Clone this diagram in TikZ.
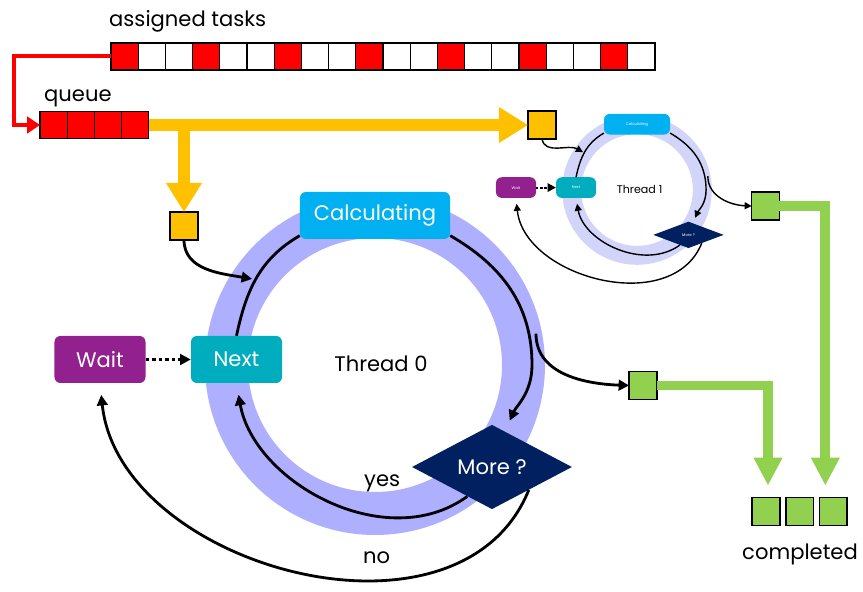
\documentclass[tikz,border=0pt]{standalone}
\usepackage{fontspec}
\setmainfont{Poppins}
\usetikzlibrary{shapes.geometric, arrows.meta, positioning, calc}

\definecolor{taskred}{RGB}{255,0,0}
\definecolor{queueyellow}{RGB}{255,192,0}
\definecolor{donegreen}{RGB}{146,208,80}
\definecolor{ringblue}{RGB}{174,176,255}
\definecolor{ringpale}{RGB}{210,212,250}
\definecolor{calcblue}{RGB}{0,176,240}
\definecolor{nextteal}{RGB}{0,173,190}
\definecolor{waitpurple}{RGB}{146,32,142}
\definecolor{morenavy}{RGB}{0,32,96}

\tikzset{
  lbl/.style={font=\fontsize{18}{20}\selectfont, inner sep=0pt},
  cell/.style={draw, line width=1pt, minimum width=0.816cm, minimum height=0.81cm, inner sep=0pt, outer sep=0pt},
  token/.style={draw, line width=1.2pt, minimum size=0.83cm, inner sep=0pt, outer sep=0pt},
  ring/.style={fill=ringblue},
  boxtext/.style={font=\fontsize{18}{20}\selectfont},
  nametext/.style={font=\fontsize{18}{20}\selectfont},
  stepbox/.style={rounded corners=5pt, minimum width=2.73cm, minimum height=1.41cm, text=white, inner sep=0pt, boxtext},
  decision/.style={diamond, fill=morenavy, minimum width=4.8cm, minimum height=1.8cm, inner sep=0pt, text=white, boxtext},
  loopline/.style={line width=2.4pt},
  flow/.style={loopline, -{Triangle[length=9pt,width=9pt]}},
  thinflow/.style={line width=1.2pt, -{Triangle[length=6pt,width=6pt]}},
  gap/.style={shorten >=10pt},
  waitflow/.style={flow, dash pattern=on 3pt off 2.5pt},
  feed/.style={draw=taskred, line width=3.4pt, -{Triangle[length=11pt,width=14pt]}},
  pipe/.style={draw=queueyellow, line width=10.2pt, -{Triangle[length=25pt,width=29pt]}},
  donepipe/.style={draw=donegreen, line width=8.5pt, -{Triangle[length=24pt,width=23pt]}},
  % one worker thread: ring, its three steps and the decision
  threadloop/.pic={
    \fill[ring, even odd rule] (0,0) circle (170) (0,0) circle (127);
    \node[stepbox, fill=calcblue, minimum width=4.5cm] (-calc) at (0,149.5) {Calculating};
    \node[stepbox, fill=nextteal] (-next) at (-138.5,5.5) {Next};
    \node[stepbox, fill=waitpurple] (-wait) at (-275,5.5) {Wait};
    \node[decision] (-more) at (117,-102) {More ?};
    \node[nametext] (-name) at (6,1) {#1};
    \coordinate (-in) at (145:150);
    \coordinate (-right) at (0:157);
    \coordinate (-out) at (11:164);
    \draw[loopline] (-next.north) to[out=78,in=210] (-calc.195);
    \draw[flow, gap] (-calc.-15) to[out=-30,in=90] (-right) to[out=-90,in=66] (-more.70);
    \draw[flow, gap] (-more.-130) to[out=-144,in=-80] (-next.south);
    \draw[flow, gap] (-more.-32) to[out=-112,in=-84,looseness=1.07] (-wait.south);
    \draw[waitflow] (-wait) -- (-next);
  }
}

\begin{document}
\begin{tikzpicture}[x=0.03cm, y=0.03cm]
\useasboundingbox (0,0) rectangle (863,592);

% the two threads
\pic (t0) at (375,227) {threadloop=Thread 0};
\pic[scale=.44, transform shape,
  ring/.style={fill=ringpale},
  boxtext/.style={font=\fontsize{7.4}{8}\selectfont},
  nametext/.style={font=\fontsize{21.5}{24}\selectfont},
  loopline/.style={line width=1.2pt},
  flow/.style={loopline, -{Triangle[length=6pt,width=6pt]}},
  gap/.style={shorten >=5pt},
  waitflow/.style={loopline, -{Triangle[length=7pt,width=7pt]}, line width=1.8pt, dash pattern=on 2pt off 1.5pt}] (t1) at (637,402) {threadloop=Thread 1};

% assigned tasks, every third one goes to the queue
\node[cell, fill=taskred] (task1) at (124.6,535.5) {};
\foreach \i in {2,...,20}{
  \pgfmathtruncatemacro\prev{\i-1}
  \pgfmathtruncatemacro\rest{mod(\i-1,3)}
  \ifnum\rest=0 \def\cellfill{taskred}\else\def\cellfill{white}\fi
  \node[cell, fill=\cellfill, right=0pt of task\prev] (task\i) {};
}
\node[lbl, anchor=base west] (assigned) at (109,565) {assigned tasks};

% queue
\node[cell, fill=taskred] (q1) at (53.6,467) {};
\foreach \i in {2,3,4}{
  \pgfmathtruncatemacro\prev{\i-1}
  \node[cell, fill=taskred, right=0pt of q\prev] (q\i) {};
}
\node[lbl, anchor=base west] (queue) at (44,490) {queue};

% tasks handed out and finished
\node[token, fill=queueyellow] (y0) at (184,366) {};
\node[token, fill=queueyellow] (y1) at (542,467) {};
\node[token, fill=donegreen] (g0) at (643,206.5) {};
\node[token, fill=donegreen] (g1) at (765.5,386) {};
\node[token, fill=donegreen] (c1) at (766,80.5) {};
\node[token, fill=donegreen, right=0.18cm of c1] (c2) {};
\node[token, fill=donegreen, right=0.18cm of c2] (c3) {};
\node[lbl, anchor=base] (completed) at (800,32) {completed};

\node[lbl, anchor=base west] (yes) at (364,105) {yes};
\node[lbl, anchor=base west] (no) at (363,28) {no};

% connectors
\draw[feed] (task1.west) -- ++(-97,0) |- (q1.west);
\draw[pipe] (q4.east) -- (y1.west);
\draw[pipe] (q4.east -| y0) -- (y0.north);
\draw[donepipe] (g0.east) -| ($(c1.north)+(2,12)$);
\draw[donepipe] (g1.east) -| ($(c3.north)+(-8,12)$);

\draw[flow] (y0.south) to[out=-90,in=170] (t0-in);
\draw[flow] (t0-out) to[out=-90,in=178] (g0.west);
\draw[thinflow] (y1.south) to[out=-80,in=150] (t1-in);
\draw[thinflow] (t1-out) to[out=-90,in=178] (g1.west);
\end{tikzpicture}
\end{document}
